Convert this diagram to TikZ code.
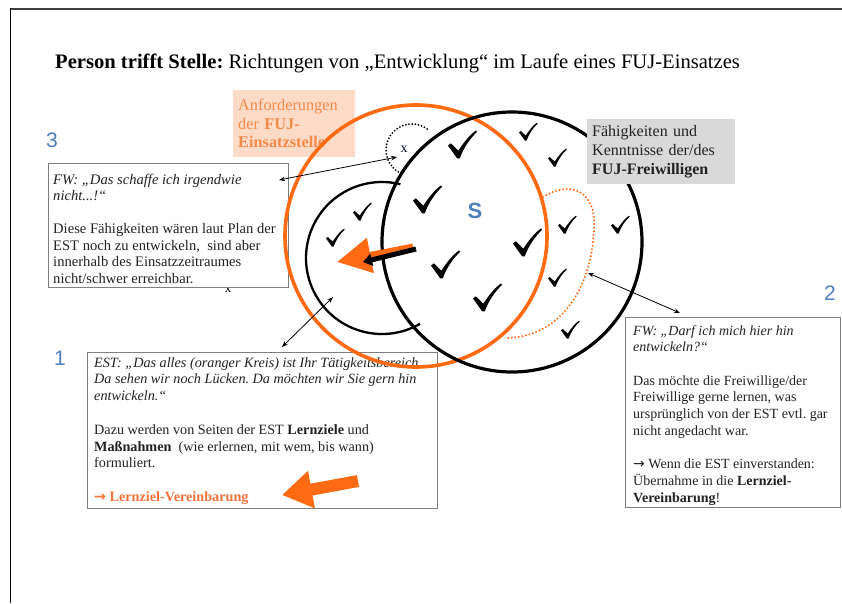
\documentclass[tikz,border=0pt]{standalone}
\usepackage{fontspec}
\setmainfont{Liberation Serif}
\newfontfamily\arialf{Liberation Sans}
\newfontfamily\dejavu{DejaVu Sans}
\usetikzlibrary{arrows.meta}
\definecolor{orng}{HTML}{FF6A13}
\definecolor{lorng}{HTML}{F58A4A}
\definecolor{torng}{HTML}{F4733A}
\definecolor{peach}{HTML}{FDDBC7}
\definecolor{gbox}{HTML}{D9D9D9}
\definecolor{bluen}{HTML}{4F81BD}
\definecolor{bordg}{HTML}{7F7F7F}
\definecolor{txtc}{HTML}{222222}
\newcommand{\rarr}{{\dejavu →}}
\begin{document}
\frenchspacing
\begin{tikzpicture}[x=1pt,y=-1pt,
  boxframe/.style={draw=bordg, line width=1.2pt, fill=white, anchor=north west, inner sep=0},
  boxtext/.style={anchor=north west, align=left, inner sep=0, text=txtc},
  num/.style={text=bluen, font=\arialf\fontsize{21}{21}\selectfont, inner sep=0},
  thinarrow/.style={line width=0.8pt, {Stealth[length=6pt,width=4.5pt]}-{Stealth[length=6pt,width=4.5pt]}},
  ringline/.style={line width=3.2pt},
  chkmark/.pic={\fill[black]
     (-0.5,0.02) -- (-0.4,-0.06) -- (-0.13,0.2) .. controls (0.1,-0.15) and (0.3,-0.38) .. (0.5,-0.52)
     -- (0.54,-0.47) .. controls (0.3,-0.25) and (0.05,0.1) .. (-0.08,0.48) -- (-0.17,0.48) -- cycle;}
]
\useasboundingbox (0,0) rectangle (842,603);
\fill[white] (0,0) rectangle (842,603);
% frame
\draw[line width=2pt, black!75] (10,8.5) -- (842,8.5);
\draw[line width=1.5pt] (10.5,7.5) -- (10.5,603);

% title
\node[anchor=base west, inner sep=0, font=\fontsize{20.6}{20.6}\selectfont, text=black] (title) at (55,68)
  {\textbf{Person trifft Stelle:} Richtungen von „Entwicklung“ im Laufe eines FUJ-Einsatzes};

% stray x below box 3
\node[inner sep=0, font=\fontsize{13}{13}\selectfont] (x2) at (228,290) {x};

% box 3
\node[boxframe, minimum width=240pt, minimum height=124pt] (b3) at (48,163) {};
\node[boxtext, font=\fontsize{14.6}{16.5}\selectfont] (b3t) at ([xshift=5pt,yshift=-11pt]b3.north west)
  {\textit{FW: „Das schaffe ich irgendwie}\\
   \textit{nicht...!“}\\[16.5pt]
   Diese Fähigkeiten wären laut Plan der\\
   EST noch zu entwickeln,\ \ sind aber\\
   innerhalb des Einsatzzeitraumes\\
   nicht/schwer erreichbar.};

% box 1
\node[boxframe, minimum width=350pt, minimum height=156pt] (b1) at (87,352) {};
\node[boxtext, font=\fontsize{14.2}{16.8}\selectfont] (b1t) at ([xshift=7pt,yshift=-5pt]b1.north west)
  {\textit{EST: „Das alles (oranger Kreis) ist Ihr Tätigkeitsbereich.}\\
   \textit{Da sehen wir noch Lücken. Da möchten wir Sie gern hin}\\
   \textit{entwickeln.“}\\[16.8pt]
   Dazu werden von Seiten der EST \textbf{Lernziele} und\\
   \textbf{Maßnahmen}\ \ (wie erlernen, mit wem, bis wann)\\
   formuliert.\\[16.8pt]
   {\color{torng}\textbf{\rarr\ Lernziel-Vereinbarung}}};

% box 2
\node[boxframe, minimum width=215pt, minimum height=190pt] (b2) at (625,317) {};
\node[boxtext, font=\fontsize{14}{16.7}\selectfont] (b2t) at ([xshift=8pt,yshift=-8pt]b2.north west)
  {\textit{FW: „Darf ich mich hier hin}\\
   \textit{entwickeln?“}\\[16.7pt]
   Das möchte die Freiwillige/der\\
   Freiwillige gerne lernen, was\\
   ursprünglich von der EST evtl. gar\\
   nicht angedacht war.\\[16.7pt]
   \rarr\ Wenn die EST einverstanden:\\
   Übernahme in die \textbf{Lernziel-}\\
   \textbf{Vereinbarung}!};

% Anforderungen box
\node[fill=peach, anchor=north west, text width=112pt, minimum height=67pt, inner xsep=5pt,
  align=left, text=lorng, font=\fontsize{16.3}{18.5}\selectfont] (anf) at (233,90)
  {Anforderungen\\der \textbf{FUJ-}\\\textbf{Einsatzstelle}};

% circles
\coordinate (oc) at (416,236);
\coordinate (bc) at (512,242);
\coordinate (sc) at (382,258);
\draw[orng, ringline, line width=3.6pt] (oc) circle[radius=131];
\draw[ringline] (bc) circle[radius=130];
\draw[line width=2.3pt] (sc) ++(60:76) arc[start angle=60, end angle=284, radius=76];
% dotted small black arc around x
\draw[line width=2pt, line cap=round, dash pattern=on 0pt off 3.2pt] (412,150) ++(115:26) arc[start angle=115, end angle=312, radius=26];
\node[inner sep=0, font=\fontsize{14}{14}\selectfont, text=black!80!blue] (xm) at (404,149) {x};
% dotted orange lobe
\draw[orng, line width=2.2pt, line cap=round, dash pattern=on 0pt off 3.6pt]
  (543,197) .. controls (570,180) and (597,190) .. (594,230) .. controls (591,290) and (560,336) .. (508,338);

% checks
\foreach \p in {(462,145),(427,200),(527,243),(445,265),(487,298)} \pic[scale=28] at \p {chkmark};
\foreach \p in {(528,132),(557,158),(567,225),(620,225),(557,278),(570,330),(362,212),(335,238)} \pic[scale=18] at \p {chkmark};

\node[text=bluen, font=\arialf\bfseries\fontsize{22}{22}\selectfont, inner sep=0] (S) at (475,211) {S};

% big arrows
\coordinate (oa1) at (413,247);
\coordinate (oa2) at (337,262);
\draw[orng, line width=7pt, -{Triangle[length=34pt,width=34pt]}] (oa1) -- (oa2);
\coordinate (ba1) at (416,249);
\coordinate (ba2) at (363,262);
\draw[black, line width=5pt, -{Triangle[length=9pt,width=12pt]}] (ba1) -- (ba2);
\coordinate (la1) at (358,481);
\coordinate (la2) at (282,495);
\draw[orng, line width=12pt, -{Triangle[length=30pt,width=36pt]}] (la1) -- (la2);

% Faehigkeiten box
\node[fill=gbox, anchor=north west, text width=138pt, minimum height=65pt, inner xsep=5pt,
  align=left, text=txtc, font=\fontsize{16}{19}\selectfont] (fae) at (587,119)
  {Fähigkeiten und\\Kenntnisse der/des\\\textbf{FUJ-Freiwilligen}};

% thin connectors
\coordinate (t3a) at (279,180);
\coordinate (t3b) at (397,157);
\draw[thinarrow] (t3a) -- (t3b);
\coordinate (t1a) at (282,347);
\coordinate (t1b) at (333,297);
\draw[thinarrow] (t1a) -- (t1b);
\coordinate (t2a) at (680,313);
\coordinate (t2b) at (588,273);
\draw[thinarrow] (t2a) -- (t2b);

% numbers
\node[num] (n3) at (52,140) {3};
\node[num] (n1) at (60,358) {1};
\node[num] (n2) at (830,293) {2};
\end{tikzpicture}
\end{document}
